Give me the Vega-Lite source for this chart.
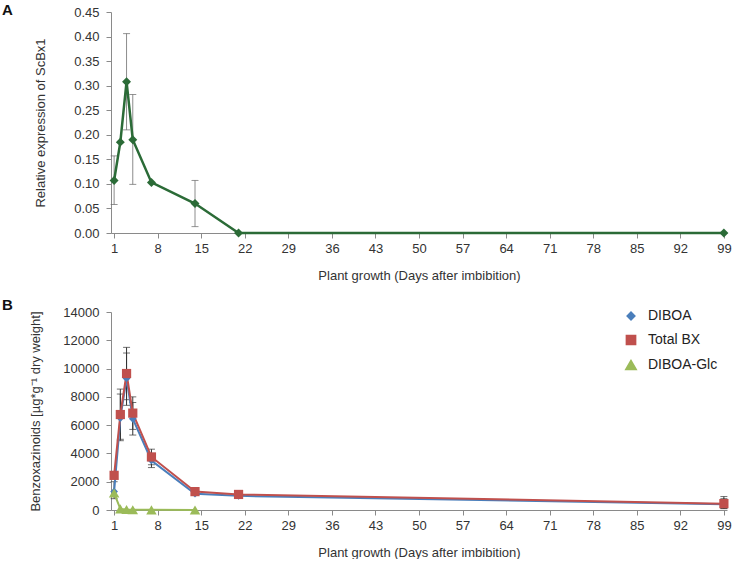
{
  "$schema": "https://vega.github.io/schema/vega-lite/v6.json",
  "padding": {"left": 2, "top": 3, "right": 0, "bottom": 0},
  "background": "white",
  "spacing": 16,
  "resolve": {"legend": {"color": "independent", "shape": "independent", "size": "independent"}},
  "config": {
    "view": {"stroke": null},
    "font": "Liberation Sans",
    "axis": {
      "grid": false,
      "domainColor": "#8a8a8a",
      "tickColor": "#8a8a8a",
      "labelFont": "Liberation Sans",
      "labelFontSize": 13,
      "labelColor": "#333333",
      "labelOverlap": false,
      "titleFont": "Liberation Sans",
      "titleFontSize": 13,
      "titleFontWeight": "normal",
      "titleColor": "#333333",
      "tickSize": 5
    },
    "legend": {
      "title": null,
      "labelFontSize": 14,
      "labelColor": "#222222",
      "labelFont": "Liberation Sans",
      "rowPadding": 9,
      "symbolSize": 90,
      "labelOffset": 10
    }
  },
  "datasets": {
    "expr": [
      {"day": 1, "v": 0.107},
      {"day": 2, "v": 0.185},
      {"day": 3, "v": 0.308},
      {"day": 4, "v": 0.19},
      {"day": 7, "v": 0.103},
      {"day": 14, "v": 0.06},
      {"day": 21, "v": 0.0},
      {"day": 99, "v": 0.0}
    ],
    "exprErr": [
      {"day": 1, "lo": 0.058, "hi": 0.157},
      {"day": 3, "lo": 0.21, "hi": 0.406},
      {"day": 4, "lo": 0.099, "hi": 0.282},
      {"day": 14, "lo": 0.013, "hi": 0.107}
    ],
    "bx": [
      {"day": 1, "series": "DIBOA", "v": 1300},
      {"day": 2, "series": "DIBOA", "v": 6500},
      {"day": 3, "series": "DIBOA", "v": 9300},
      {"day": 4, "series": "DIBOA", "v": 6450},
      {"day": 7, "series": "DIBOA", "v": 3500},
      {"day": 14, "series": "DIBOA", "v": 1150},
      {"day": 21, "series": "DIBOA", "v": 1000},
      {"day": 99, "series": "DIBOA", "v": 400},
      {"day": 1, "series": "Total BX", "v": 2450},
      {"day": 2, "series": "Total BX", "v": 6750},
      {"day": 3, "series": "Total BX", "v": 9650},
      {"day": 4, "series": "Total BX", "v": 6850},
      {"day": 7, "series": "Total BX", "v": 3750},
      {"day": 14, "series": "Total BX", "v": 1300},
      {"day": 21, "series": "Total BX", "v": 1100},
      {"day": 99, "series": "Total BX", "v": 450},
      {"day": 1, "series": "DIBOA-Glc", "v": 1200},
      {"day": 2, "series": "DIBOA-Glc", "v": 80},
      {"day": 3, "series": "DIBOA-Glc", "v": 30},
      {"day": 4, "series": "DIBOA-Glc", "v": 20},
      {"day": 7, "series": "DIBOA-Glc", "v": 10},
      {"day": 14, "series": "DIBOA-Glc", "v": 5}
    ],
    "bxErr": [
      {"day": 1, "series": "DIBOA", "lo": 800, "hi": 2000},
      {"day": 2, "series": "DIBOA", "lo": 4900, "hi": 8200},
      {"day": 3, "series": "DIBOA", "lo": 7400, "hi": 11100},
      {"day": 4, "series": "DIBOA", "lo": 5300, "hi": 7600},
      {"day": 7, "series": "DIBOA", "lo": 3000, "hi": 4000},
      {"day": 99, "series": "DIBOA", "lo": 100, "hi": 800},
      {"day": 2, "series": "Total BX", "lo": 5000, "hi": 8550},
      {"day": 3, "series": "Total BX", "lo": 7800, "hi": 11500},
      {"day": 4, "series": "Total BX", "lo": 5700, "hi": 8000},
      {"day": 7, "series": "Total BX", "lo": 3200, "hi": 4300},
      {"day": 99, "series": "Total BX", "lo": 100, "hi": 950}
    ]
  },
  "vconcat": [
    {
      "width": 616,
      "height": 221,
      "title": {"text": "A", "anchor": "start", "frame": "group", "fontSize": 15, "fontWeight": "bold", "color": "#111111", "font": "Liberation Sans", "dx": -109, "dy": 12, "offset": 0},
      "encoding": {
        "x": {"field": "day", "type": "quantitative", "scale": {"domain": [0.5, 99.5], "nice": false, "zero": false},
          "axis": {"values": [1, 8, 15, 22, 29, 36, 43, 50, 57, 64, 71, 78, 85, 92, 99], "title": "Plant growth (Days after imbibition)", "titlePadding": 14, "labelPadding": 4}},
        "y": {"type": "quantitative", "scale": {"domain": [0, 0.45], "nice": false},
          "axis": {"values": [0, 0.05, 0.1, 0.15, 0.2, 0.25, 0.3, 0.35, 0.4, 0.45], "format": ".2f", "title": "Relative expression of ScBx1", "titlePadding": 26, "labelPadding": 7}}
      },
      "layer": [
        {
          "data": {"name": "exprErr"},
          "mark": {"type": "rule", "color": "#8c8c8c", "strokeWidth": 1},
          "encoding": {
            "y": {"field": "lo", "type": "quantitative"},
            "y2": {"field": "hi"}
          }
        },
        {
          "data": {"name": "exprErr"},
          "mark": {"type": "tick", "orient": "horizontal", "color": "#666666", "size": 7, "thickness": 1},
          "encoding": {
            "y": {"field": "lo", "type": "quantitative"}
          }
        },
        {
          "data": {"name": "exprErr"},
          "mark": {"type": "tick", "orient": "horizontal", "color": "#666666", "size": 7, "thickness": 1},
          "encoding": {
            "y": {"field": "hi", "type": "quantitative"}
          }
        },
        {
          "data": {"name": "expr"},
          "mark": {"type": "line", "color": "#2b6b37", "strokeWidth": 2.5},
          "encoding": {
            "y": {"field": "v", "type": "quantitative"}
          }
        },
        {
          "data": {"name": "expr"},
          "mark": {"type": "point", "shape": "diamond", "filled": true, "color": "#2b6b37", "opacity": 1, "size": 80},
          "encoding": {
            "y": {"field": "v", "type": "quantitative"}
          }
        }
      ]
    },
    {
      "width": 616,
      "height": 198,
      "title": {"text": "B", "anchor": "start", "frame": "group", "fontSize": 15, "fontWeight": "bold", "color": "#111111", "font": "Liberation Sans", "dx": -109, "dy": 11, "offset": 4},
      "encoding": {
        "x": {"field": "day", "type": "quantitative", "scale": {"domain": [0.5, 99.5], "nice": false, "zero": false},
          "axis": {"values": [1, 8, 15, 22, 29, 36, 43, 50, 57, 64, 71, 78, 85, 92, 99], "title": "Plant growth (Days after imbibition)", "titlePadding": 14, "labelPadding": 4}},
        "y": {"type": "quantitative", "scale": {"domain": [0, 14000], "nice": false},
          "axis": {"values": [0, 2000, 4000, 6000, 8000, 10000, 12000, 14000], "format": "d", "title": "Benzoxazinoids [µg*g⁻¹ dry weight]", "titlePadding": 20, "labelPadding": 7}}
      },
      "layer": [
        {
          "data": {"name": "bxErr"},
          "mark": {"type": "rule", "color": "#333333", "strokeWidth": 1},
          "encoding": {
            "y": {"field": "lo", "type": "quantitative"},
            "y2": {"field": "hi"}
          }
        },
        {
          "data": {"name": "bxErr"},
          "mark": {"type": "tick", "orient": "horizontal", "color": "#333333", "size": 7, "thickness": 1},
          "encoding": {
            "y": {"field": "lo", "type": "quantitative"}
          }
        },
        {
          "data": {"name": "bxErr"},
          "mark": {"type": "tick", "orient": "horizontal", "color": "#333333", "size": 7, "thickness": 1},
          "encoding": {
            "y": {"field": "hi", "type": "quantitative"}
          }
        },
        {
          "data": {"name": "bx"},
          "mark": {"type": "line", "strokeWidth": 2},
          "encoding": {
            "y": {"field": "v", "type": "quantitative"},
            "color": {"field": "series", "type": "nominal", "scale": {"domain": ["DIBOA", "Total BX", "DIBOA-Glc"], "range": ["#4a7ebb", "#c0504d", "#9bbb59"]},
              "legend": {"orient": "none", "legendX": 513, "legendY": -3}},
            "order": {"field": "day", "type": "quantitative"}
          }
        },
        {
          "data": {"name": "bx"},
          "mark": {"type": "point", "filled": true, "opacity": 1},
          "encoding": {
            "y": {"field": "v", "type": "quantitative"},
            "color": {"field": "series", "type": "nominal", "scale": {"domain": ["DIBOA", "Total BX", "DIBOA-Glc"], "range": ["#4a7ebb", "#c0504d", "#9bbb59"]},
              "legend": {"orient": "none", "legendX": 513, "legendY": -3}},
            "shape": {"field": "series", "type": "nominal", "scale": {"domain": ["DIBOA", "Total BX", "DIBOA-Glc"], "range": ["diamond", "square", "triangle-up"]},
              "legend": {"orient": "none", "legendX": 513, "legendY": -3}},
            "size": {"field": "series", "type": "nominal", "scale": {"domain": ["DIBOA", "Total BX", "DIBOA-Glc"], "range": [60, 110, 80]}, "legend": null}
          }
        }
      ]
    }
  ]
}
